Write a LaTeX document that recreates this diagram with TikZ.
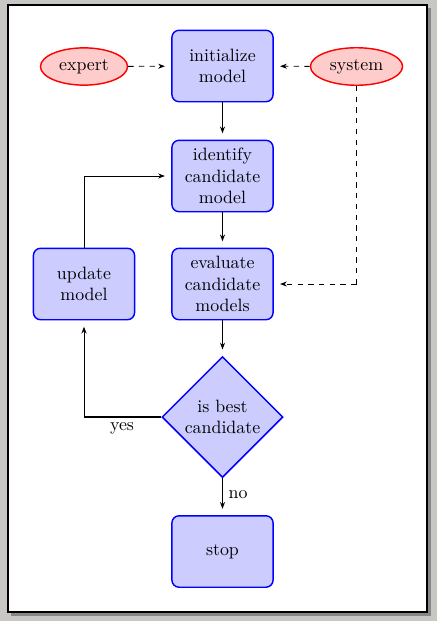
\documentclass[tikz,border=0pt]{standalone}
\usetikzlibrary{shapes.geometric,arrows.meta}
\definecolor{bggray}{RGB}{201,199,196}
\definecolor{shadowgray}{RGB}{135,135,135}
\begin{document}
\begin{tikzpicture}[x=0.56pt,y=-0.56pt,
  block/.style={rectangle, draw=blue, thick, fill=blue!20, text width=5em, align=center, rounded corners=4pt, minimum height=4em, inner sep=0.3333em},
  decision/.style={diamond, draw=blue, thick, fill=blue!20, text width=4.5em, align=center, inner sep=0pt, aspect=1, minimum width=67.8pt, minimum height=67.8pt},
  cloud/.style={ellipse, draw=red, thick, fill=red!20, minimum height=2em},
  conn/.style={draw, line width=0.5pt, -{Stealth[length=3.8pt,width=2.8pt]}, shorten >=3.5pt},
  lbl/.style={inner sep=0pt}
]
\useasboundingbox (0,0) rectangle (437,621);
\fill[bggray] (0,0) rectangle (437,621);
\fill[shadowgray] (11,8) rectangle (431,616);
\draw[fill=white, line width=0.7pt] (8,5) rectangle (427,612);

\node[block] (init) at (222.5,66) {initialize model};
\node[cloud] (expert) at (84,66.5) {expert};
\node[cloud] (system) at (356.5,66.5) {system};
\node[block] (identify) at (222.5,176) {identify candidate model};
\node[block] (evaluate) at (222.5,284) {evaluate candidate models};
\node[block] (update) at (84,284) {update model};
\node[decision] (decide) at (222.5,417) {is best candidate};
\node[block] (stop) at (222.5,551.5) {stop};

\coordinate (yescorner) at (84,417);
\coordinate (updcorner) at (84,176);
\coordinate (syscorner) at (356.5,284);

\path[conn] (init) -- (identify);
\path[conn] (identify) -- (evaluate);
\path[conn] (evaluate) -- (decide);
\draw[line width=1pt] (decide.west) -- (yescorner);
\path[conn] (yescorner) -- (update.south);
\path[conn] (update.north) -- (updcorner) -- (identify.west);
\path[conn] (decide.south) -- (stop.north);
\path[conn, dashed] (expert) -- (init);
\path[conn, dashed] (system) -- (init);
\draw[dashed, line width=1pt] (system.south) -- (syscorner);
\path[conn, dashed] (syscorner) -- (evaluate.east);

\node[lbl] (yes) at (122,428) {yes};
\node[lbl] (no) at (238,495) {no};
\end{tikzpicture}
\end{document}
